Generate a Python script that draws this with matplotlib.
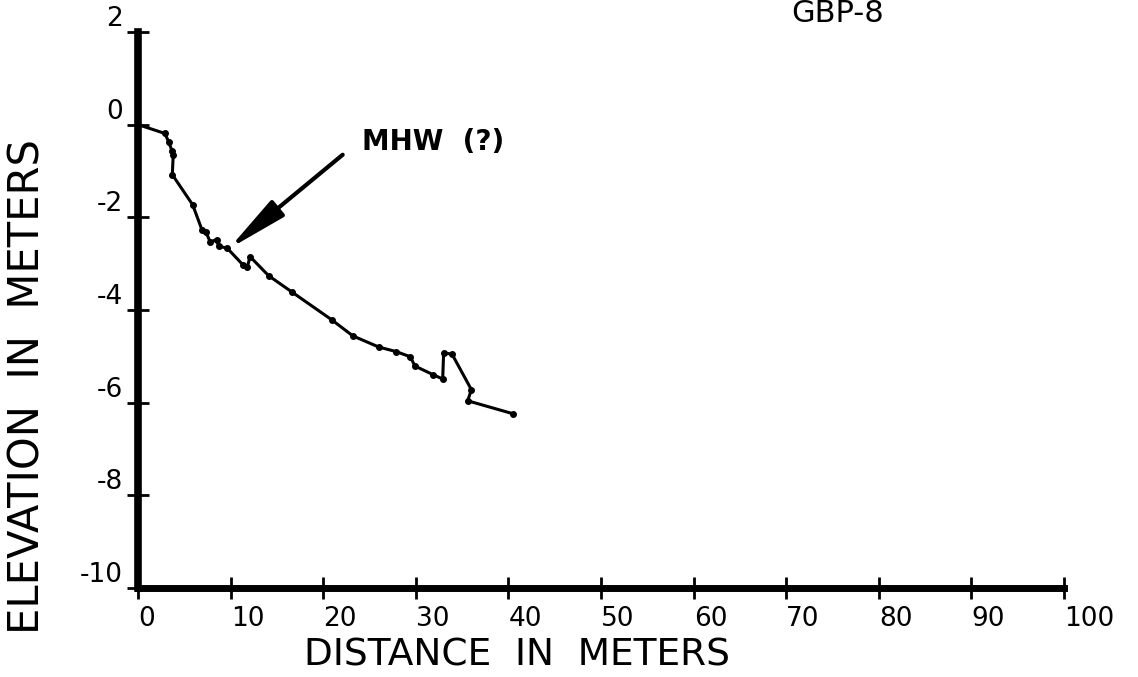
"""
GBP-8 beach profile: elevation vs distance
"""

import matplotlib
matplotlib.use('Agg')
import matplotlib.pyplot as plt
import numpy as np

###########################
# Data
###########################

dist = [0, 2.9, 3.3, 3.7, 3.8, 3.7, 5.9, 6.9, 7.3, 7.8, 8.5, 8.7, 9.6,
        11.3, 11.8, 12.1, 14.1, 16.6, 20.9, 23.2, 26.0, 27.9, 29.4, 29.9,
        31.9, 32.9, 33.0, 33.9, 36.0, 35.6, 40.5]
elev = [0, -0.19, -0.37, -0.58, -0.65, -1.08, -1.73, -2.27, -2.31, -2.53,
        -2.48, -2.63, -2.66, -3.02, -3.07, -2.85, -3.26, -3.61, -4.21, -4.56,
        -4.80, -4.90, -5.01, -5.21, -5.40, -5.49, -4.93, -4.95, -5.72, -5.96,
        -6.24]

x_ticks = list(range(0, 101, 10))
y_ticks = list(range(-10, 3, 2))

title = 'GBP-8'
note = 'MHW  (?)'
note_tail = (22.1, -0.65)
note_tip = (9.8, -2.68)

###########################
# Figure
###########################

fig = plt.figure(figsize=(11.38, 6.77), dpi=100)
ax = fig.add_axes([0.1213, 0.1315, 0.8137, 0.8213])

ax.plot(dist, elev, color='black', lw=2.2, marker='o', ms=4)

ax.set_xlim(0, 100)
ax.set_ylim(-10, 2)
ax.set_xticks(x_ticks)
ax.set_yticks(y_ticks)
ax.set_xticklabels([str(v) for v in x_ticks], ha='left')
ax.set_yticklabels([str(v) for v in y_ticks], va='bottom')

ax.spines['top'].set_visible(False)
ax.spines['right'].set_visible(False)
ax.spines['left'].set_linewidth(5.5)
ax.spines['bottom'].set_linewidth(5.0)
ax.spines['left'].set_capstyle('projecting')
ax.spines['bottom'].set_capstyle('projecting')

ax.tick_params(direction='inout', length=16, width=2, labelsize=19,
               colors='black')
ax.tick_params(axis='x', pad=5)
ax.tick_params(axis='y', pad=3)

# arrow pointing at MHW
ax.annotate('', xy=note_tip, xytext=note_tail,
            arrowprops=dict(arrowstyle='-|>,head_length=1.3,head_width=0.22',
                            mutation_scale=28, lw=3, color='black',
                            shrinkA=0, shrinkB=0))

fig.text(362 / 1138, 1 - 142 / 677, note, fontsize=20, fontweight='bold',
         ha='left', va='center')
fig.text(838 / 1138, 1 - 22 / 677, title, fontsize=22, ha='center',
         va='baseline')

fig.text(517 / 1138, 1 - 656 / 677, 'DISTANCE  IN  METERS', fontsize=27,
         ha='center', va='center')
fig.text(28 / 1138, 1 - 387 / 677, 'ELEVATION  IN  METERS', fontsize=30,
         ha='center', va='center', rotation=90)

plt.savefig('out.png', dpi=100)
